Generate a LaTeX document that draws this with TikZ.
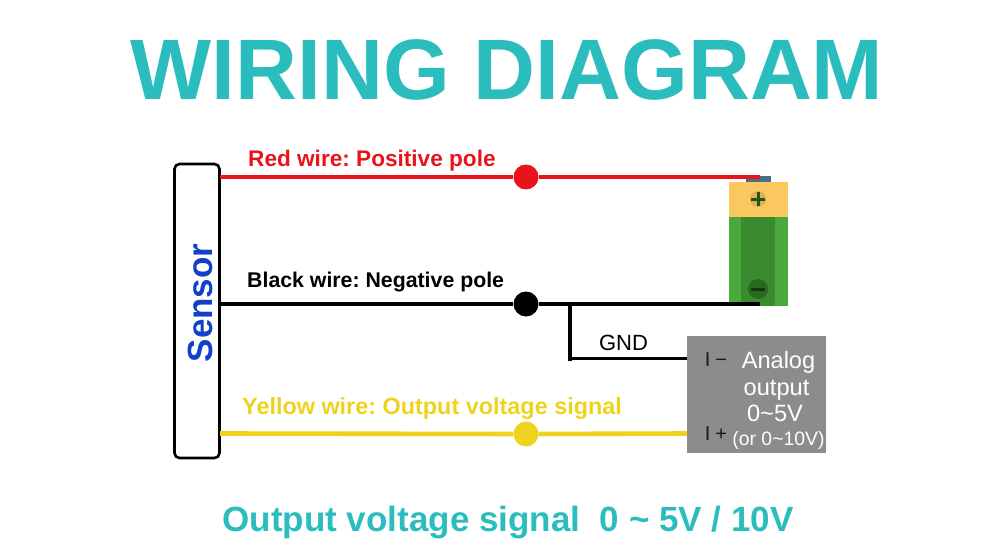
\documentclass[tikz,border=0pt]{standalone}
\usepackage{fontspec}
\setmainfont{Liberation Sans}
\usetikzlibrary{positioning,calc,shapes,backgrounds,fit}
\definecolor{teal1}{HTML}{2BBDBD}
\definecolor{wirered}{HTML}{E8141C}
\definecolor{wireyellow}{HTML}{EFD21E}
\definecolor{sensorblue}{HTML}{1240C8}
\definecolor{boxgrey}{HTML}{8C8C8C}
\definecolor{capyellow}{HTML}{FBC85F}
\definecolor{batgreen}{HTML}{4BA83C}
\definecolor{batdark}{HTML}{3A8A30}
\definecolor{poledark}{HTML}{276A20}
\definecolor{pinblue}{HTML}{46708A}
\newcommand{\fs}[1]{\fontsize{#1}{#1}\selectfont}
\frenchspacing

\begin{document}
\begin{tikzpicture}
[x=1pt,y=-1pt,
wire/.style={line width=4.6pt},
dotn/.style={circle,inner sep=0pt,minimum size=25pt},
lbl/.style={inner sep=0pt,anchor=west},
boxtxt/.style={inner sep=0pt,text=white,font=\fs{23.6}},
term/.style={inner sep=0pt,text=black!90,font=\fs{20}}]
\useasboundingbox (0,0) rectangle (1000,556);

%% title
\node[inner sep=0pt,text=teal1,font=\fs{85.8}\bfseries] (title) at (507,69.5) {WIRING DIAGRAM};
\node[inner sep=0pt,text=teal1,font=\fs{35}\bfseries] (foot) at (508,523) {Output voltage signal\ \ 0 \textasciitilde\ 5V / 10V};

%% battery
\node[fill=batgreen,minimum width=59pt,minimum height=124pt,inner sep=0pt] (bat) at (758.5,244) {};
\node[fill=batdark,minimum width=34pt,minimum height=89pt,inner sep=0pt] (batmid) at (758,261.5) {};
\node[fill=capyellow,minimum width=59pt,minimum height=35pt,inner sep=0pt] (batcap) at (758.5,199.5) {};
\node[fill=pinblue,minimum width=25pt,minimum height=6pt,inner sep=0pt] (batpin) at (758.5,179) {};
\node[circle,fill=capyellow!88!black,minimum size=16pt,inner sep=0pt] (plus) at (758,199) {};
\draw[poledark!80!black,line width=3pt] (751,199) -- (765,199) (758,192) -- (758,206);
\node[circle,fill=poledark,minimum size=20pt,inner sep=0pt] (minus) at (758,289) {};
\draw[poledark!50!black,line width=3pt] (751,289) -- (765,289);

%% sensor
\node[draw,rounded corners=5pt,line width=2.6pt,minimum width=45pt,minimum height=294pt,inner sep=0pt] (sensor) at (197,311) {};
\node[rotate=90,inner sep=0pt,text=sensorblue,font=\fs{35}\bfseries] (sname) at (200,303) {Sensor};

%% output box
\node[fill=boxgrey,minimum width=139pt,minimum height=117pt,inner sep=0pt] (out) at (756.5,394.5) {};
\node[boxtxt] (a1) at (778.5,362) {Analog};
\node[boxtxt] (a2) at (776.5,390) {output};
\node[boxtxt] (a3) at (775,413.5) {0\textasciitilde 5V};
\node[boxtxt,font=\fs{19.4}] (a4) at (778.5,440) {(or 0\textasciitilde 10V)};
\node[term] (tm) at (716,360) {I\hspace{5pt}−};
\node[term] (tp) at (716,434) {I\hspace{5pt}+};

%% wire ends
\coordinate (redS) at (220,177);
\coordinate (redE) at (760,177);
\coordinate (blackS) at (220,304);
\coordinate (blackE) at (760,304);
\coordinate (gndT) at (570,304);
\coordinate (gndB) at (570,358.5);
\coordinate (gndE) at (687,358.5);
\coordinate (yelS) at (220,433.5);
\coordinate (yelE) at (687,433.5);

%% dots
\node[dotn,fill=wirered] (dr) at (526,177) {};
\node[dotn,fill=black] (db) at (526,304) {};
\node[dotn,fill=wireyellow] (dy) at (526,434) {};

%% wires
\draw[wire,wirered] (redS) -- (dr) -- (redE);
\draw[wire,black] (blackS) -- (db) -- (blackE);
\draw[wire,black,line cap=rect] (gndT) -- (gndB);
\draw[line width=3.6pt,black] (gndB) -- (gndE);
\draw[wire,wireyellow] (yelS) -- (dy) -- (yelE);

%% labels
\node[lbl,text=wirered,font=\fs{22.6}\bfseries] (lr) at (248,161) {Red wire: Positive pole};
\node[lbl,font=\fs{21.3}\bfseries] (lb) at (247,282) {Black wire: Negative pole};
\node[lbl,text=wireyellow,font=\fs{23.4}\bfseries] (ly) at (242,408) {Yellow wire: Output voltage signal};
\node[inner sep=0pt,font=\fs{22}] (gnd) at (623.5,343) {GND};
\end{tikzpicture}
\end{document}
